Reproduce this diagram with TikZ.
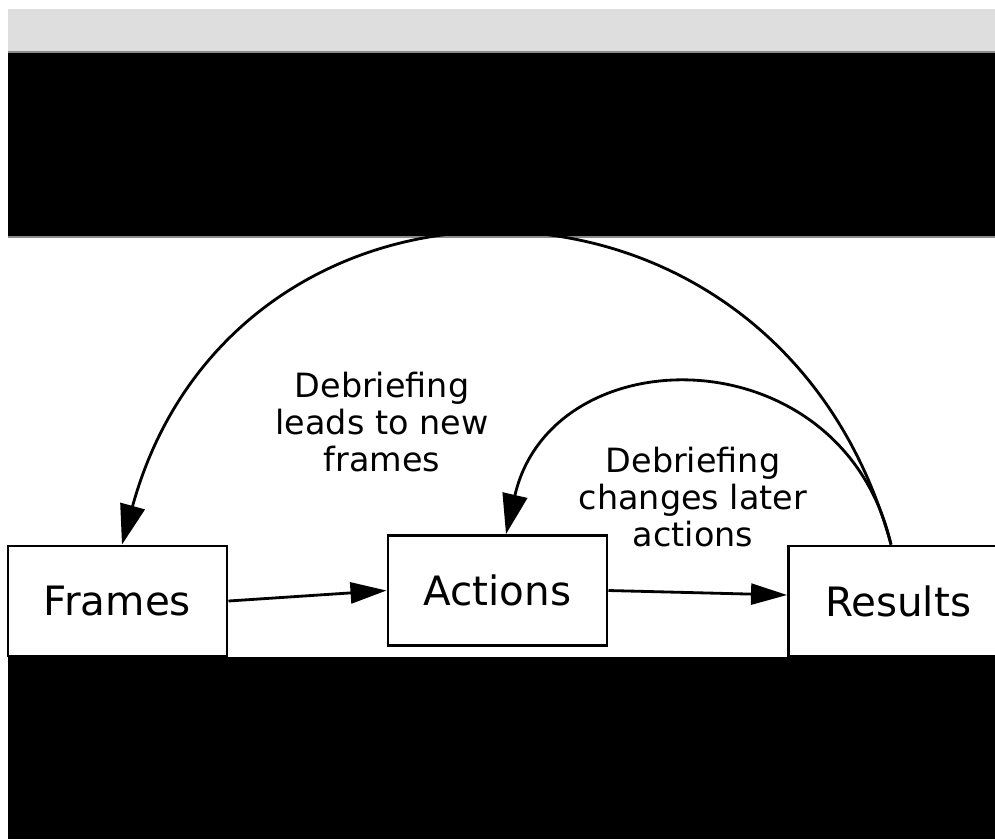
\documentclass[tikz,border=0pt]{standalone}
\usepackage{fontspec}
\setmainfont{DejaVu Sans}
\usetikzlibrary{arrows.meta,calc}
\begin{document}
\begin{tikzpicture}[x=0.01cm,y=-0.01cm,line width=0.8pt,
    box/.style={draw,fill=white,minimum width=2.19cm,minimum height=1.1cm,inner sep=0pt,font=\fontsize{11.5}{13}\selectfont},
    note/.style={align=center,font=\fontsize{9.5}{10.5}\selectfont},
    arr/.style={-{Triangle[length=4mm,width=2.5mm]}},
    harr/.style={-{Triangle[length=3.6mm,width=2.1mm]}}]
  \useasboundingbox (0,0) rectangle (995,839);
  \fill[white] (0,0) rectangle (995,839);
  \fill[black!13] (8,9) rectangle (995,52);
  \fill[black] (8,52) rectangle (995,237);
  \draw[black!45,line width=0.4pt] (8,52) -- (995,52) (8,237) -- (995,237);
  % boxes
  \node[box] (frames) at (117.5,601) {Frames};
  \node[box] (actions) at (497.5,590.5) {Actions};
  \node[box] (results) at (898,601) {Results};
  % labels
  \node[note] (leads) at (382,422) {Debriefing\\leads to new\\frames};
  \node[note] (changes) at (693,497) {Debriefing\\changes later\\actions};
  % connectors
  \draw[harr] (frames.east) -- (actions.west);
  \draw[harr] (actions.east) -- ($(results.west)+(0,-6)$);
  \draw[arr] ($(results.north)+(-7,0)$) .. controls +(-113,-411) and +(113,-411) .. ($(frames.north)+(4.5,0)$);
  \draw[arr] ($(results.north)+(-7,0)$) .. controls +(-49,-211) and +(46,-200) .. ($(actions.north)+(8.5,0)$);
  \fill[black] (8,657) rectangle (995,839);
\end{tikzpicture}
\end{document}
